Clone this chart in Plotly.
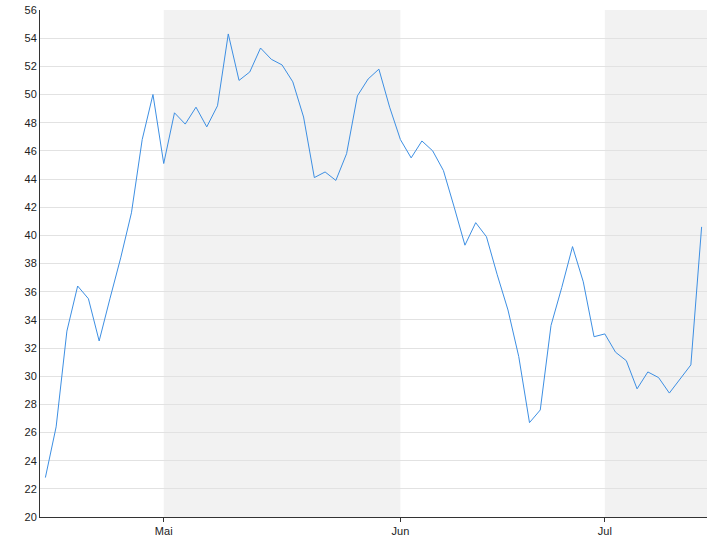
import plotly.graph_objects as go

# ── Data ──────────────────────────────────────────────────────────────────────

# one value per trading day (index 0 .. 61)
values = [
    22.8, 26.4, 33.2, 36.4, 35.5, 32.5, 35.5, 38.4, 41.6, 46.8,
    50.0, 45.1, 48.7, 47.9, 49.1, 47.7, 49.2, 54.3, 51.0, 51.6,
    53.3, 52.5, 52.1, 50.9, 48.4, 44.1, 44.5, 43.9, 45.8, 49.9,
    51.1, 51.8, 49.1, 46.8, 45.5, 46.7, 46.0, 44.6, 42.0, 39.3,
    40.9, 39.9, 37.2, 34.7, 31.4, 26.7, 27.6, 33.6, 36.3, 39.2,
    36.7, 32.8, 33.0, 31.7, 31.1, 29.1, 30.3, 29.9, 28.8, 29.8,
    30.8, 40.6,
]
day_index = list(range(len(values)))

# first trading day of each month shown on the axis
month_labels = ["Mai", "Jun", "Jul"]
month_starts = [11, 33, 52]

# months drawn with a grey band
shaded_months = ["Mai", "Jul"]

y_ticks = list(range(20, 57, 2))

# ── Theme ─────────────────────────────────────────────────────────────────────

LINE_BLUE  = "#3d8fe3"
BAND_GREY  = "#f2f2f2"
GRID_COLOR = "#e2e2e2"
AXIS_COLOR = "#333333"
TEXT_COLOR = "#222222"

x_lo, x_hi = -0.5, len(values) - 0.5

fig = go.Figure()

fig.add_trace(go.Scatter(
    x    = day_index,
    y    = values,
    mode = "lines",
    line = dict(color=LINE_BLUE, width=1),
    hoverinfo = "skip",
))

# month bands
bounds = month_starts + [x_hi]
for i, name in enumerate(month_labels):
    if name in shaded_months:
        fig.add_shape(
            type = "rect", xref = "x", yref = "paper",
            x0 = bounds[i], x1 = bounds[i + 1], y0 = 0, y1 = 1,
            fillcolor = BAND_GREY, line_width = 0, layer = "below",
        )

fig.update_layout(
    template = "none",
    width  = 720,
    height = 540,
    paper_bgcolor = "white",
    plot_bgcolor  = "white",
    showlegend = False,
    margin = dict(l=40, r=13, t=10, b=23, pad=0),
    font   = dict(family="Liberation Sans, Arial, sans-serif", size=11, color=TEXT_COLOR),
)

fig.update_xaxes(
    automargin = False,
    range     = [x_lo, x_hi],
    tickvals  = month_starts,
    ticktext  = month_labels,
    ticks     = "outside",
    ticklen   = 4,
    tickcolor = AXIS_COLOR,
    showgrid  = False,
    zeroline  = False,
    showline  = True,
    linecolor = AXIS_COLOR,
    linewidth = 1,
    tickfont  = dict(size=11, color=TEXT_COLOR),
)

fig.update_yaxes(
    automargin = False,
    range     = [20, 56],
    tickvals  = y_ticks,
    ticks     = "",
    showgrid  = True,
    gridcolor = GRID_COLOR,
    gridwidth = 1,
    zeroline  = False,
    showline  = True,
    linecolor = AXIS_COLOR,
    linewidth = 1,
    tickfont  = dict(size=11, color=TEXT_COLOR),
)

# drop the browser's default 8px body margin so the figure sits at (0, 0)
fig.write_html(
    "out.html",
    config = {"displayModeBar": False, "staticPlot": True},
    post_script = "document.body.style.margin = '0';",
)
